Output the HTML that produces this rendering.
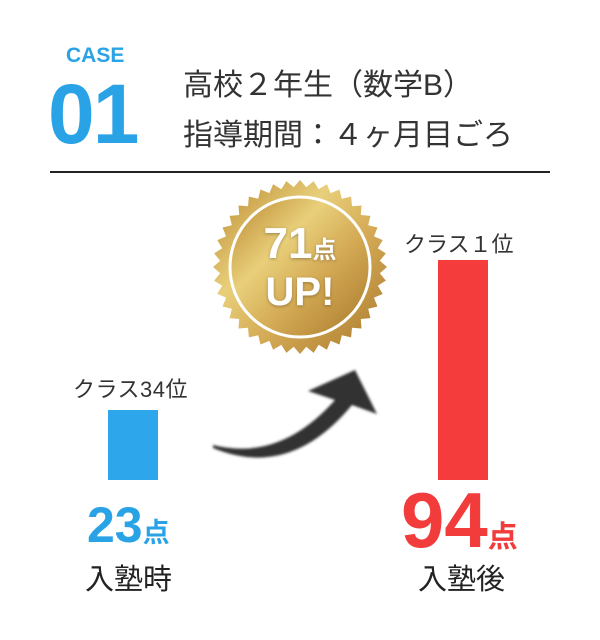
<!DOCTYPE html>
<html><head><meta charset="utf-8"><style>
body{margin:0;width:600px;height:640px;background:#fff;overflow:hidden;font-family:"Liberation Sans","Noto Sans CJK JP",sans-serif;position:relative}
.a{position:absolute;white-space:nowrap}
</style></head><body>
<div class="a" style="left:66px;top:44px;font-size:21px;color:#29a3e6;font-weight:bold">CASE</div>
<div class="a" style="left:48px;top:66px;font-size:84px;line-height:96px;color:#29a3e6;font-weight:bold;letter-spacing:-2px">01</div>
<div class="a" style="left:183px;top:60px;font-size:30px;color:#333">高校２年生（数学B）</div>
<div class="a" style="left:183px;top:110px;font-size:30px;color:#333">指導期間：４ヶ月目ごろ</div>
<div class="a" style="left:50px;top:171px;width:500px;height:2px;background:#222"></div>
<svg class="a" style="left:0;top:0" width="600" height="640">
<defs>
<linearGradient id="g" x1="0" y1="0" x2="1" y2="1"><stop offset="0" stop-color="#b8862e"/><stop offset=".35" stop-color="#e9cf7a"/><stop offset=".6" stop-color="#d4aa55"/><stop offset="1" stop-color="#a7782a"/></linearGradient>
<filter id="bl"><feGaussianBlur stdDeviation="1.2"/></filter>
</defs>
<g id="badge"></g>
<path filter="url(#bl)" fill="#333" d="M213,445 Q280,462 335,400 L308,391 L355,370 L377,414 L352,405 Q290,480 213,448 Z"/>
<g id="bars"></g>
</svg>
<div class="a" style="left:245px;top:220px;width:110px;text-align:center;color:#fff;font-weight:bold;font-size:44px;line-height:48px;text-shadow:0 1px 3px rgba(0,0,0,.3)">71<span style="font-size:24px">点</span></div>
<div class="a" style="left:245px;top:270px;width:110px;text-align:center;color:#fff;font-weight:bold;font-size:40px;line-height:44px;text-shadow:0 1px 3px rgba(0,0,0,.3)">UP!</div>
<div class="a" style="left:73px;top:372px;font-size:22px;color:#333;letter-spacing:0.5px">クラス34位</div>
<div class="a" style="left:404px;top:227px;font-size:22px;color:#333">クラス１位</div>
<div class="a" style="left:87px;top:498px;font-size:50px;line-height:54px;color:#29a3e6;font-weight:bold">23<span style="font-size:27px">点</span></div>
<div class="a" style="left:401px;top:480px;font-size:78px;line-height:80px;color:#f23b3b;font-weight:bold">94<span style="font-size:30px">点</span></div>
<div class="a" style="left:85px;top:556px;font-size:29px;color:#222">入塾時</div>
<div class="a" style="left:418px;top:556px;font-size:29px;color:#222">入塾後</div>
<script>
const categories=["入塾時","入塾後"];
const scores=[23,94];
const colors=["#2ea6eb","#f53c3c"];
const NS="http://www.w3.org/2000/svg";
const base=480;
function yh(v){return v*2.113+21.4;}
const xs=[108,438];
const bars=document.getElementById('bars');
scores.forEach((v,i)=>{
const r=document.createElementNS(NS,'rect');
r.setAttribute('x',xs[i]);r.setAttribute('width',50);
r.setAttribute('y',base-yh(v));r.setAttribute('height',yh(v));
r.setAttribute('fill',colors[i]);


bars.appendChild(r);});
const b=document.getElementById('badge');
let d='';const n=40,cx=300,cy=267;
for(let k=0;k<n*2;k++){const a=k*Math.PI/n,rr=k%2?80:87;d+=(k?'L':'M')+(cx+rr*Math.cos(a)).toFixed(1)+','+(cy+rr*Math.sin(a)).toFixed(1);}
const p=document.createElementNS(NS,'path');p.setAttribute('d',d+'Z');p.setAttribute('fill','url(#g)');


b.appendChild(p);
const c=document.createElementNS(NS,'circle');c.setAttribute('cx',cx);c.setAttribute('cy',cy);c.setAttribute('r',70);c.setAttribute('fill','url(#g)');c.setAttribute('stroke','#fff');c.setAttribute('stroke-width','3');


b.appendChild(c);
</script>
</body></html>
